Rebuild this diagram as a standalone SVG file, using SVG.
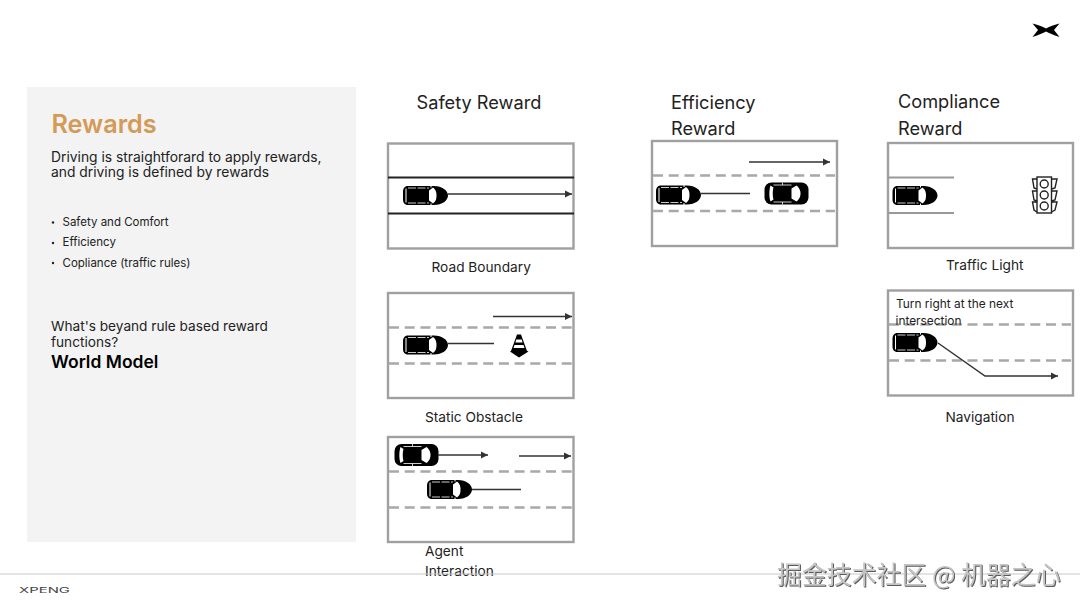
<svg xmlns="http://www.w3.org/2000/svg" width="1080" height="608" viewBox="0 0 1080 608">
<style>
text{font-family:"Inter","Liberation Sans",sans-serif;fill:#222}
.h{font-size:18.200px}
.l{font-size:13.700px}
.b{font-size:13.850px}
.c{font-size:13.650px}
.s{font-size:11.500px}
.n{font-size:11.900px}
.box{fill:#fff;stroke:#a0a0a0;stroke-width:2.400}
.dash{stroke:#a8a8a8;stroke-width:2.400;stroke-dasharray:10 5.700;fill:none}
.road{stroke:#222;stroke-width:2;fill:none}
.groad{stroke:#999;stroke-width:2;fill:none}
.arr{stroke:#333;stroke-width:1.500;fill:none}
</style>
<defs>
<marker id="ah" markerUnits="userSpaceOnUse" markerWidth="8" markerHeight="8" refX="7" refY="4" orient="auto"><path d="M0,0.500L7,4L0,7.500Z" fill="#333"/></marker>
<g id="car">
<path d="M5,-9.500H31C39,-9.500 45,-5 45,0C45,5 39,9.500 31,9.500H5C1.500,9.500 0,7 0,4V-4C0,-7 1.500,-9.500 5,-9.500Z" fill="#000"/>
<path d="M26,-5L30,-8C33,-6 33.500,-3 33.500,0C33.500,3 33,6 30,8L26,5Z" fill="#fff"/>
<path d="M3,-7V7M28,-10V-8M28,8V10" stroke="#fff" stroke-width="1" fill="none"/>
<path d="M5,-7.500H26M5,7.500H26" stroke="#fff" stroke-width="0.800" stroke-dasharray="8 1.500" fill="none"/>
</g>
<g id="carbig">
<rect x="0" y="-11" width="44" height="22" rx="7" fill="#000"/>
<path d="M27,-5L32,-8C35.500,-5 36,-2 36,0C36,2 35.500,5 32,8L27,5Z" fill="#fff"/>
<path d="M6,-8C4.500,-4 4.500,4 6,8L9,6C8,3 8,-3 9,-6Z" fill="#fff"/>
<path d="M9,-8.500H27M9,8.500H27M18,-11V-8.500M18,8.500V11" stroke="#fff" stroke-width="0.800" fill="none"/>
</g>
</defs>
<rect width="1080" height="608" fill="#fff"/>
<g id="sidebar">
<rect x="27" y="87" width="329" height="455" fill="#f3f3f3"/>
<text x="51.500" y="132.500" style="font-size:25.200px;font-weight:600;fill:#d39a58">Rewards</text>
<text x="51" y="162" class="b">Driving is straightforard to apply rewards,</text>
<text x="51" y="177" class="b">and driving is defined by rewards</text>
<circle cx="53" cy="222.500" r="1.200" fill="#222"/><text x="62.500" y="226" class="s">Safety and Comfort</text>
<circle cx="53" cy="243" r="1.200" fill="#222"/><text x="62.500" y="246" class="s">Efficiency</text>
<circle cx="53" cy="263" r="1.200" fill="#222"/><text x="62.500" y="267" class="s">Copliance (traffic rules)</text>
<text x="51" y="331" class="c">What's beyand rule based reward</text>
<text x="51" y="347" class="c">functions?</text>
<text x="51" y="367.500" style="font-size:17.500px;font-weight:600;fill:#000">World Model</text>
</g>
<g id="headings">
<text x="416.500" y="108.500" class="h">Safety Reward</text>
<text x="671" y="108.500" class="h">Efficiency</text>
<text x="671" y="135" class="h">Reward</text>
<text x="898" y="107.500" class="h">Compliance</text>
<text x="898" y="134.500" class="h">Reward</text>
</g>
<g id="road-boundary">
<rect class="box" x="388" y="143.500" width="185.500" height="105"/>
<path class="road" d="M388,177.500H574M388,213.500H574"/>
<use href="#car" x="403" y="195.500"/>
<text x="431.500" y="272" class="l">Road Boundary</text>
</g>
<g id="static-obstacle">
<rect class="box" x="388" y="293" width="185.500" height="105"/>
<path class="dash" d="M389,327.500H572M389,363.500H572"/>
<use href="#car" x="403" y="345"/>
<g id="cone">
<path d="M517,334.500H521L527,351H511Z" fill="#000"/>
<path d="M516.300,339.500H521.700L522.600,342.500H515.400Z" fill="#fff"/>
<path d="M514.500,345H523.500L524.500,348H513.500Z" fill="#fff"/>
<path d="M510,351.500L513,350H525L528.500,351.500L519,357.500Z" fill="#000"/>
</g>
<text x="425" y="422" class="l">Static Obstacle</text>
</g>
<g id="agent-interaction">
<rect class="box" x="388" y="437" width="185.500" height="105"/>
<path class="dash" d="M389,471.500H572M389,507.500H572"/>
<use href="#carbig" x="394.500" y="455"/>
<use href="#car" x="427" y="489.500"/>
<text x="425" y="556" class="l">Agent</text>
<text x="425" y="576" class="l">Interaction</text>
</g>
<g id="efficiency">
<rect class="box" x="652" y="141" width="185" height="105"/>
<path class="dash" d="M653,175.500H835M653,211H835"/>
<use href="#car" x="656" y="195"/>
<use href="#carbig" x="764.500" y="193.500"/>
</g>
<g id="traffic-light">
<rect class="box" x="888" y="143" width="185" height="105"/>
<path class="groad" d="M888,177.500H954M888,213H954"/>
<use href="#car" x="892.500" y="195.500"/>
<g id="signal" fill="none" stroke="#222" stroke-width="1.400">
<rect x="1037" y="177" width="14.500" height="36"/>
<circle cx="1044.200" cy="184" r="4"/><circle cx="1044.200" cy="195" r="4"/><circle cx="1044.200" cy="206" r="4"/>
<path d="M1037,179H1032.500L1034,188L1037,189M1051.500,179H1057L1055,188L1051.500,189M1037,191H1032.500L1034,200L1037,201M1051.500,191H1057L1055,200L1051.500,201M1037,202H1032.500L1034,210L1037,212M1051.500,202H1057L1055,210L1051.500,212"/>
</g>
<text x="946" y="270" class="l">Traffic Light</text>
</g>
<g id="navigation">
<rect class="box" x="888" y="290.500" width="185" height="105"/>
<path class="dash" d="M889,324.500H1071M889,360.500H1071"/>
<text x="896" y="308" class="n">Turn right at the next</text>
<text x="895.500" y="325" class="n">intersection</text>
<use href="#car" x="892.500" y="342.500"/>
<text x="945.500" y="422" class="l">Navigation</text>
</g>
<g id="connectors">
<path class="arr" d="M448,194H572" marker-end="url(#ah)"/>
<path class="arr" d="M448,343.500H494"/>
<path class="arr" d="M493,316.500H572" marker-end="url(#ah)"/>
<path class="arr" d="M438,455H488" marker-end="url(#ah)"/>
<path class="arr" d="M519,456H571" marker-end="url(#ah)"/>
<path class="arr" d="M472,489.500H521"/>
<path class="arr" d="M701,193.500H750"/>
<path class="arr" d="M749,162H830" marker-end="url(#ah)"/>
<path class="arr" d="M938,343L985,376H1058" marker-end="url(#ah)"/>
</g>
<g id="footer">
<path d="M0,574H1080" stroke="#c8c8c8" stroke-width="1.200"/>
<text x="19" y="593" textLength="51" lengthAdjust="spacingAndGlyphs" style="font-size:7.500px;fill:#444">XPENG</text>
<path id="logo" d="M1032.500,23.500C1039,25 1043,27 1046,28.500C1049,27 1053,25 1059.500,23.500L1054,30L1059.500,37C1053,35 1049,33 1046,31.500C1043,33 1039,35 1032.500,37L1038,30Z" fill="#000"/>
<text x="777" y="584" style="font-family:'Noto Sans CJK SC',sans-serif;font-size:24.900px;fill:#c4c4c4;filter:drop-shadow(1px 1px 0 #5a5a5a)">掘金技术社区 @ 机器之心</text>
</g>
</svg>
